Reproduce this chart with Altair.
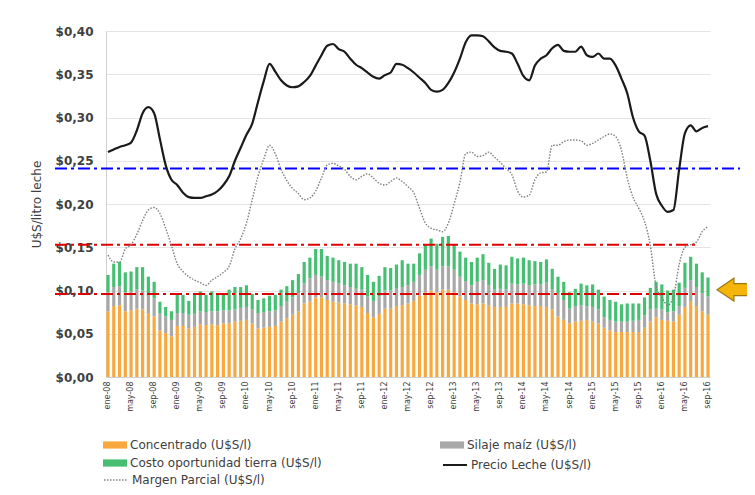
import altair as alt
import pandas as pd

# ---------------- categories ----------------
MESES = ["ene", "feb", "mar", "abr", "may", "jun", "jul", "ago", "sep", "oct", "nov", "dic"]
ANIOS = ["08", "09", "10", "11", "12", "13", "14", "15", "16"]
meses = [m + "-" + a for a in ANIOS for m in MESES][:105]   # ene-08 ... sep-16
etiquetas_x = meses[::4]                                      # ene, may, sep of each year
y_ticks = [0.0, 0.05, 0.10, 0.15, 0.20, 0.25, 0.30, 0.35, 0.40]

# ---------------- series values (U$S / litro) ----------------
concentrado = [
    0.076, 0.082, 0.083, 0.076, 0.077, 0.079, 0.078, 0.074, 0.070, 0.054, 0.051, 0.047,
    0.059, 0.059, 0.056, 0.058, 0.061, 0.060, 0.061, 0.060, 0.062, 0.062, 0.064, 0.065,
    0.066, 0.062, 0.056, 0.057, 0.058, 0.059, 0.064, 0.068, 0.072, 0.076, 0.085, 0.087,
    0.092, 0.092, 0.089, 0.087, 0.086, 0.085, 0.084, 0.083, 0.081, 0.074, 0.069, 0.073,
    0.079, 0.079, 0.082, 0.083, 0.085, 0.088, 0.094, 0.098, 0.100, 0.098, 0.101, 0.101,
    0.098, 0.093, 0.089, 0.085, 0.084, 0.085, 0.083, 0.081, 0.081, 0.081, 0.085, 0.085,
    0.084, 0.083, 0.082, 0.082, 0.081, 0.078, 0.070, 0.066, 0.062, 0.064, 0.065, 0.066,
    0.064, 0.062, 0.057, 0.054, 0.052, 0.052, 0.052, 0.052, 0.052, 0.057, 0.064, 0.069,
    0.066, 0.065, 0.064, 0.072, 0.081, 0.087, 0.082, 0.076, 0.072,
]
silaje = [
    0.022, 0.022, 0.022, 0.022, 0.022, 0.022, 0.022, 0.021, 0.021, 0.020, 0.019, 0.019,
    0.015, 0.015, 0.016, 0.015, 0.015, 0.015, 0.015, 0.016, 0.015, 0.015, 0.014, 0.015,
    0.015, 0.016, 0.018, 0.018, 0.018, 0.018, 0.018, 0.019, 0.020, 0.021, 0.023, 0.027,
    0.026, 0.024, 0.023, 0.023, 0.022, 0.021, 0.020, 0.019, 0.020, 0.019, 0.019, 0.020,
    0.021, 0.021, 0.020, 0.021, 0.021, 0.022, 0.024, 0.026, 0.028, 0.026, 0.027, 0.027,
    0.026, 0.023, 0.022, 0.021, 0.026, 0.027, 0.023, 0.020, 0.021, 0.020, 0.023, 0.022,
    0.024, 0.023, 0.025, 0.025, 0.028, 0.023, 0.025, 0.023, 0.017, 0.018, 0.018, 0.016,
    0.017, 0.016, 0.012, 0.012, 0.012, 0.012, 0.012, 0.013, 0.014, 0.014, 0.014, 0.010,
    0.012, 0.010, 0.012, 0.010, 0.022, 0.025, 0.022, 0.021, 0.021,
]
tierra = [
    0.020, 0.027, 0.028, 0.023, 0.023, 0.026, 0.027, 0.021, 0.019, 0.013, 0.011, 0.010,
    0.021, 0.021, 0.016, 0.022, 0.023, 0.020, 0.023, 0.020, 0.019, 0.024, 0.026, 0.024,
    0.025, 0.018, 0.015, 0.016, 0.018, 0.018, 0.019, 0.018, 0.020, 0.022, 0.025, 0.024,
    0.030, 0.032, 0.028, 0.028, 0.027, 0.027, 0.027, 0.029, 0.026, 0.025, 0.022, 0.024,
    0.027, 0.026, 0.028, 0.031, 0.025, 0.021, 0.025, 0.029, 0.032, 0.030, 0.034, 0.035,
    0.029, 0.029, 0.027, 0.027, 0.028, 0.030, 0.026, 0.024, 0.028, 0.028, 0.031, 0.030,
    0.030, 0.029, 0.027, 0.026, 0.027, 0.024, 0.021, 0.021, 0.019, 0.020, 0.025, 0.024,
    0.026, 0.023, 0.024, 0.023, 0.023, 0.020, 0.021, 0.020, 0.019, 0.021, 0.025, 0.031,
    0.029, 0.025, 0.025, 0.027, 0.029, 0.027, 0.027, 0.024, 0.022,
]
precio_leche = [
    0.260, 0.263, 0.266, 0.268, 0.271, 0.285, 0.305, 0.312, 0.305, 0.275, 0.245, 0.228,
    0.222, 0.213, 0.208, 0.207, 0.207, 0.209, 0.211, 0.215, 0.222, 0.232, 0.250, 0.265,
    0.280, 0.293, 0.318, 0.342, 0.362, 0.353, 0.343, 0.337, 0.335, 0.336, 0.341, 0.348,
    0.360, 0.372, 0.383, 0.385, 0.379, 0.376, 0.368, 0.361, 0.357, 0.352, 0.347, 0.345,
    0.349, 0.352, 0.362, 0.361, 0.357, 0.352, 0.346, 0.340, 0.332, 0.330, 0.332, 0.340,
    0.352, 0.368, 0.387, 0.395, 0.395, 0.394, 0.388, 0.381, 0.377, 0.376, 0.374, 0.362,
    0.348, 0.343, 0.360, 0.368, 0.372, 0.380, 0.384, 0.377, 0.376, 0.376, 0.382, 0.372,
    0.370, 0.374, 0.368, 0.368, 0.360, 0.345, 0.328, 0.300, 0.284, 0.279, 0.250, 0.212,
    0.198, 0.191, 0.193, 0.240, 0.282, 0.291, 0.284, 0.288, 0.290,
]
margen = [
    0.141, 0.133, 0.133, 0.148, 0.153, 0.165, 0.181, 0.193, 0.196, 0.189, 0.172, 0.152,
    0.131, 0.122, 0.116, 0.112, 0.109, 0.106, 0.112, 0.116, 0.121, 0.128, 0.148, 0.160,
    0.178, 0.205, 0.232, 0.252, 0.268, 0.258, 0.240, 0.227, 0.218, 0.212, 0.205, 0.207,
    0.215, 0.230, 0.245, 0.247, 0.244, 0.240, 0.232, 0.228, 0.232, 0.235, 0.230, 0.224,
    0.222, 0.226, 0.230, 0.226, 0.220, 0.213, 0.195, 0.178, 0.172, 0.170, 0.168, 0.178,
    0.200, 0.225, 0.258, 0.260, 0.255, 0.256, 0.260, 0.254, 0.248, 0.241, 0.234, 0.215,
    0.208, 0.210, 0.228, 0.236, 0.237, 0.268, 0.268, 0.272, 0.274, 0.274, 0.273, 0.268,
    0.270, 0.274, 0.278, 0.281, 0.278, 0.262, 0.230, 0.208, 0.195, 0.180, 0.152, 0.105,
    0.092, 0.083, 0.093, 0.130, 0.150, 0.153, 0.156, 0.168, 0.174,
]
ref_azul = [0.241]
ref_rojo = [0.153, 0.096]
flecha_nivel = [0.101]

# ---------------- names / styles ----------------
S_CONC = "Concentrado (U$S/l)"
S_SIL = "Silaje maíz (U$S/l)"
S_TIE = "Costo oportunidad tierra (U$S/l)"
S_PRE = "Precio Leche (U$S/l)"
S_MAR = "Margen Parcial  (U$S/l)"

FONT = "DejaVu Sans"
TXT = "#404040"

bar_rows = []
for i, mes in enumerate(meses):
    for orden, (serie, vals) in enumerate([(S_CONC, concentrado), (S_SIL, silaje), (S_TIE, tierra)]):
        bar_rows.append({"mes": mes, "serie": serie, "valor": vals[i], "orden": orden})
df_bars = pd.DataFrame(bar_rows)
df_precio = pd.DataFrame({"mes": meses, "valor": precio_leche, "s1": S_PRE})
df_margen = pd.DataFrame({"mes": meses, "valor": margen, "s2": S_MAR})
df_azul = pd.DataFrame({"valor": ref_azul})
df_rojo = pd.DataFrame({"valor": ref_rojo})
df_flecha = pd.DataFrame({"valor": flecha_nivel})

x_enc = alt.X(
    "mes:N", sort=meses,
    scale=alt.Scale(paddingInner=0.45, paddingOuter=0.07),
    axis=alt.Axis(values=etiquetas_x, labelAngle=-90, title=None, ticks=False,
                  labelPadding=4, labelFontSize=8, labelColor=TXT,
                  domainColor="#d0d0d0", grid=False),
)
y_scale = alt.Scale(domain=[0, 0.4], nice=False)
y_axis = alt.Axis(
    values=y_ticks,
    labelExpr="'$' + replace(format(datum.value, '.2f'), '.', ',')",
    title="U$S/litro leche", ticks=False, labelPadding=13, titlePadding=12,
    gridColor="#e4e4e4", domainColor="#d0d0d0", labelFontSize=12, titleFontSize=12,
    labelFontWeight="bold", titleFontWeight="normal", labelColor=TXT, titleColor=TXT,
)


def y_enc(**kw):
    return alt.Y("valor:Q", scale=y_scale, axis=y_axis, **kw)


bars = alt.Chart(df_bars).mark_bar().encode(
    x=x_enc,
    y=y_enc(stack="zero"),
    fill=alt.Fill(
        "serie:N",
        scale=alt.Scale(domain=[S_CONC, S_SIL, S_TIE], range=["#F8A83C", "#A8A8A8", "#47BF72"]),
        legend=alt.Legend(
            title=None, orient="none", direction="horizontal", legendX=-3, legendY=402,
            columns=2, columnPadding=118, rowPadding=0, padding=0, labelLimit=0,
            symbolType="M-1,-0.3L1,-0.3L1,0.3L-1,0.3Z", symbolSize=576,
            symbolStrokeWidth=0, labelFontSize=12, labelColor=TXT, labelOffset=3,
            labelFont=FONT,
        ),
    ),
    order=alt.Order("orden:Q", sort="ascending"),
)

azul = alt.Chart(df_azul).mark_rule(
    color="#0000FF", strokeWidth=2, strokeDash=[12, 4, 3, 4]
).encode(y=y_enc(), x=alt.value(-51), x2=alt.value(634))

rojo = alt.Chart(df_rojo).mark_rule(
    color="#E00000", strokeWidth=2, strokeDash=[12, 4, 3, 4]
).encode(y=y_enc(), x=alt.value(-51), x2=alt.value(591))

linea_margen = alt.Chart(df_margen).mark_line(
    color="#7F7F7F", strokeWidth=1.4, interpolate="monotone"
).encode(
    x=x_enc,
    y=y_enc(),
    strokeDash=alt.StrokeDash(
        "s2:N",
        scale=alt.Scale(domain=[S_MAR], range=[[1.5, 1.5]]),
        legend=alt.Legend(
            title=None, orient="none", legendX=-3, legendY=436, padding=0, labelLimit=0,
            symbolType="stroke", symbolSize=576, symbolStrokeWidth=1.5,
            symbolStrokeColor="#808080", labelFontSize=12, labelColor=TXT,
            labelOffset=3, labelFont=FONT,
        ),
    ),
)

linea_precio = alt.Chart(df_precio).mark_line(
    strokeWidth=2.2, interpolate="monotone"
).encode(
    x=x_enc,
    y=y_enc(),
    stroke=alt.Stroke(
        "s1:N",
        scale=alt.Scale(domain=[S_PRE], range=["#1A1A1A"]),
        legend=alt.Legend(
            title=None, orient="none", legendX=336, legendY=421, padding=0, labelLimit=0,
            symbolType="stroke", symbolSize=576, symbolStrokeWidth=2,
            labelFontSize=12, labelColor=TXT, labelOffset=3, labelFont=FONT,
        ),
    ),
)

flecha = alt.Chart(df_flecha).mark_point(
    shape="M-1,0L-0.23,-0.52L-0.23,-0.27L1,-0.27L1,0.27L-0.23,0.27L-0.23,0.52Z",
    size=1936, filled=True, fill="#F5B40A", stroke="#9A7A12", strokeWidth=1.2, opacity=1,
).encode(y=y_enc(), x=alt.value(633))

chart = alt.layer(bars, rojo, azul, linea_margen, linea_precio, flecha).properties(
    width=604, height=346,
    autosize=alt.AutoSizeParams(type="none"),
    padding={"left": 98, "top": 23, "right": 37, "bottom": 110},
    background="white",
).configure(font=FONT).configure_view(strokeWidth=0)

chart.save("out.html", embed_options={"renderer": "svg", "actions": False})
